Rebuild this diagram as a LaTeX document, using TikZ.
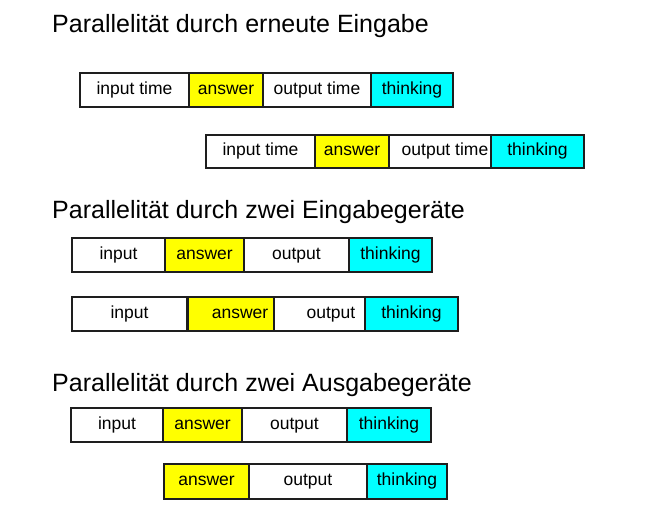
\documentclass[tikz,border=0pt]{standalone}
\usepackage{fontspec}
\setmainfont{Liberation Sans}
\definecolor{ansyellow}{RGB}{255,255,0}
\definecolor{thinkcyan}{RGB}{0,255,255}
\definecolor{edge}{RGB}{30,30,30}
\tikzset{
  heading/.style={anchor=base west, inner sep=0pt, font=\fontsize{25}{30}\selectfont},
  seg/.style={draw=edge, line width=1.3pt, inner sep=0pt, outer sep=0pt,
              text height=12.6pt, text depth=3.7pt,
              font=\fontsize{17.5}{21}\selectfont},
  inseg/.style={seg, fill=white},
  ansseg/.style={seg, fill=ansyellow},
  outseg/.style={seg, fill=white},
  thinkseg/.style={seg, fill=thinkcyan},
}
% a segment spanning x = #2..#3 on a row whose vertical extent is #4..#5
\newcommand{\segbox}[7]{%
  \node[#1, minimum width={#3-#2}, minimum height={#5-#4}] (#6)
    at ({(#2+#3)/2},{(#4+#5)/2}) {#7};}
\begin{document}
\begin{tikzpicture}[x=1pt, y=-1pt]
\useasboundingbox (0,0) rectangle (665,512);

% headings
\node[heading] (h1) at (52,32) {Parallelität durch erneute Eingabe};
\node[heading] (h2) at (52,218) {Parallelität durch zwei Eingabegeräte};
\node[heading] (h3) at (52,391) {Parallelität durch zwei Ausgabegeräte};

% re-entry: two staggered sequences
\segbox{inseg}{80}{189}{73}{107}{a1}{input time}
\segbox{ansseg}{189}{263}{73}{107}{a2}{answer}
\segbox{outseg}{263}{371}{73}{107}{a3}{output time}
\segbox{thinkseg}{371}{453}{73}{107}{a4}{thinking}

\segbox{inseg}{206}{315}{135}{168}{b1}{input time}
\segbox{ansseg}{315}{389}{135}{168}{b2}{answer}
\segbox{outseg}{389}{491}{135}{168}{b3}{\hspace*{10pt}output time}
\segbox{thinkseg}{491}{584}{135}{168}{b4}{thinking}

% two input devices
\segbox{inseg}{72}{165}{238}{272}{c1}{input}
\segbox{ansseg}{165}{244}{238}{272}{c2}{answer}
\segbox{outseg}{244}{349}{238}{272}{c3}{output}
\segbox{thinkseg}{349}{432}{238}{272}{c4}{thinking}

\segbox{inseg}{72}{187}{297}{331}{d1}{input}
\segbox{ansseg}{188}{274}{297}{331}{d2}{\hspace*{18pt}answer}
\segbox{outseg}{274}{365}{297}{331}{d3}{\hspace*{23pt}output}
\segbox{thinkseg}{365}{458}{297}{331}{d4}{thinking}

% two output devices
\segbox{inseg}{71}{163}{408}{442}{e1}{input}
\segbox{ansseg}{163}{242}{408}{442}{e2}{answer}
\segbox{outseg}{242}{347}{408}{442}{e3}{output}
\segbox{thinkseg}{347}{431}{408}{442}{e4}{thinking}

\segbox{ansseg}{164}{249}{464}{499}{f2}{answer}
\segbox{outseg}{249}{367}{464}{499}{f3}{output}
\segbox{thinkseg}{367}{447}{464}{499}{f4}{thinking}
\end{tikzpicture}
\end{document}
